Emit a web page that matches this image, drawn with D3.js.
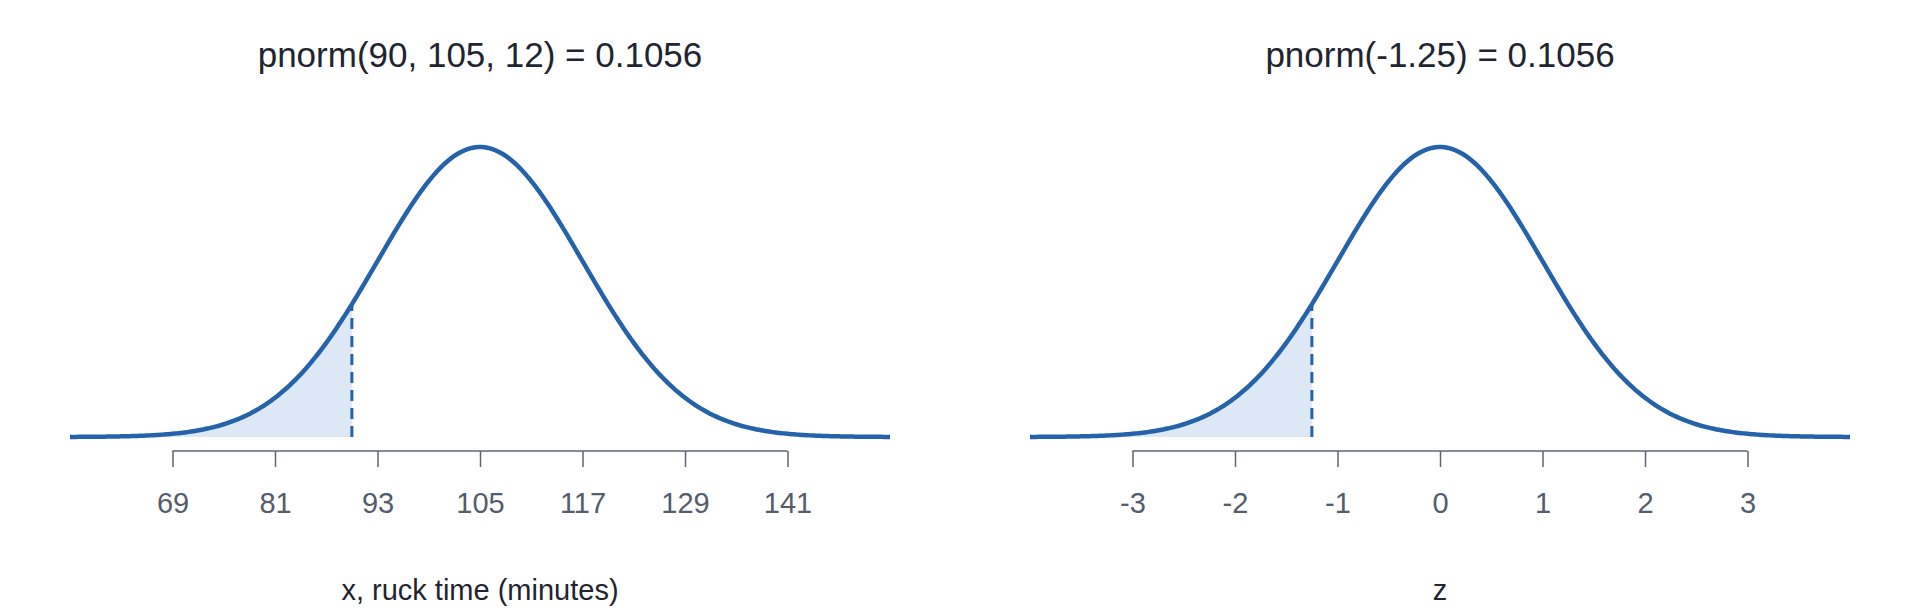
<!DOCTYPE html>
<html><head><meta charset="utf-8">
<script src="https://cdn.jsdelivr.net/npm/d3@7"></script>
<style>body{margin:0;background:#fff}text{font-family:"Liberation Sans",Arial,sans-serif}</style>
</head><body>
<svg id="c" width="1920" height="614"></svg>
<script>
const titles = ["pnorm(90, 105, 12) = 0.1056", "pnorm(-1.25) = 0.1056"];
const xLabels = ["x, ruck time (minutes)", "z"];
const means = [105, 0];
const sds = [12, 1];
const cutoffs = [90, -1.25];
const tickValues = [[69, 81, 93, 105, 117, 129, 141], [-3, -2, -1, 0, 1, 2, 3]];
const panelLeft = [70, 1030];
const panelWidth = 820;

const svg = d3.select("#c");
const lineColor = "#2462aa", fillColor = "#dce8f6", axisColor = "#5a6474";

function dnorm(x, m, s) { return Math.exp(-0.5 * ((x - m) / s) ** 2) / (s * Math.sqrt(2 * Math.PI)); }

for (let p = 0; p < 2; p++) {
  const m = means[p], s = sds[p];
  const x = d3.scaleLinear().domain([m - 4 * s, m + 4 * s]).range([panelLeft[p], panelLeft[p] + panelWidth]);
  const y = d3.scaleLinear().domain([0, dnorm(m, m, s)]).range([437, 147]);
  const g = svg.append("g");
  const pts = d3.range(0, 401).map(i => m - 4 * s + i * 8 * s / 400);
  const shade = pts.filter(v => v <= cutoffs[p]).concat([cutoffs[p]]);
  g.append("path").attr("fill", fillColor)
    .attr("d", d3.area().x(d => x(d)).y0(y(0)).y1(d => y(dnorm(d, m, s)))(shade));
  g.append("line").attr("x1", x(cutoffs[p])).attr("x2", x(cutoffs[p]))
    .attr("y1", y(0)).attr("y2", y(dnorm(cutoffs[p], m, s)))
    .attr("stroke", lineColor).attr("stroke-width", 3).attr("stroke-dasharray", "11,7");
  g.append("path").attr("fill", "none").attr("stroke", lineColor).attr("stroke-width", 4.5)
    .attr("d", d3.line().x(d => x(d)).y(d => y(dnorm(d, m, s)))(pts));
  const ax = g.append("g").attr("transform", "translate(0,451)")
    .call(d3.axisBottom(x).tickValues(tickValues[p]).tickSize(16).tickPadding(20).tickFormat(d => String(d)));
  ax.select(".domain").attr("stroke", axisColor).attr("stroke-width", 1.5).attr("d",
    `M${x(tickValues[p][0])},0H${x(tickValues[p][tickValues[p].length - 1])}`);
  ax.selectAll(".tick line").attr("stroke", axisColor).attr("stroke-width", 1.5);
  ax.selectAll(".tick text").attr("fill", "#535d6c").attr("font-size", 29).attr("font-family", "Liberation Sans, Arial")
    .attr("dy", "0.9em");
  g.append("text").attr("x", x(m)).attr("y", 67).attr("text-anchor", "middle")
    .attr("font-size", 35).attr("fill", "#1f2530").text(titles[p]);
  g.append("text").attr("x", x(m)).attr("y", 600).attr("text-anchor", "middle")
    .attr("font-size", 29).attr("fill", "#1f2530").text(xLabels[p]);
}
</script>
</body></html>
